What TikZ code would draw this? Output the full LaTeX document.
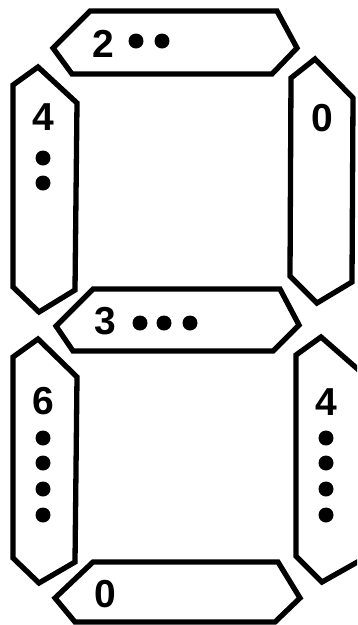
\documentclass[tikz,border=0pt]{standalone}
\usepackage{fontspec}
\setmainfont{Liberation Sans}
\newfontfamily\digfont{Liberation Sans Bold}
\begin{document}
\begin{tikzpicture}[x=1pt,y=-1pt,
  seg/.style={draw=black,line width=5.3pt,line join=miter,fill=white},
  digit/.style={font=\digfont\fontsize{39}{39}\selectfont,inner sep=0pt,anchor=center},
  dot/.style={fill=black}]
\useasboundingbox (0,0) rectangle (357,625);
\clip (0,0) rectangle (357,625);
% segments
\draw[seg] (90,11) -- (277,11) -- (297,48) -- (272,74) -- (72,74) -- (53,48) -- cycle;
\draw[seg] (38,67) -- (77,103) -- (75,290) -- (39,312) -- (13,287) -- (13,85) -- cycle;
\draw[seg] (315,59) -- (353,98) -- (352,282) -- (317,303) -- (290,276) -- (291,78) -- cycle;
\draw[seg] (93,289) -- (280,289) -- (299,325) -- (273,351) -- (73,351) -- (56,326) -- cycle;
\draw[seg] (38,339) -- (77,377) -- (75,562) -- (39,583) -- (13,558) -- (13,357) -- cycle;
\draw[seg] (321,337) -- (361,372) -- (361,560) -- (322,582) -- (296,556) -- (296,355) -- cycle;
\draw[seg] (93,562) -- (278,562) -- (300,598) -- (275,622) -- (75,622) -- (55,598) -- cycle;
% labels
\node[digit] (ta) at (103.5,43.5) {2};
\fill[dot] (136,41) circle (7.5) (162,41) circle (7.5);
\node[digit] (ul) at (43,117.5) {4};
\fill[dot] (43,158) circle (7.5) (43,183) circle (7.5);
\node[digit] (ur) at (322.5,118.5) {0};
\node[digit] (md) at (105,321.5) {3};
\fill[dot] (140,323) circle (7.5) (164,323) circle (7.5) (190,323) circle (7.5);
\node[digit] (ll) at (43,401.5) {6};
\fill[dot] (43,438) circle (7.5) (43,463) circle (7.5) (43,489) circle (7.5) (43,515) circle (7.5);
\node[digit] (lr) at (326,402.5) {4};
\fill[dot] (326,438) circle (7.5) (326,463) circle (7.5) (326,489) circle (7.5) (326,515) circle (7.5);
\node[digit] (bt) at (105,594) {0};
\end{tikzpicture}
\end{document}
